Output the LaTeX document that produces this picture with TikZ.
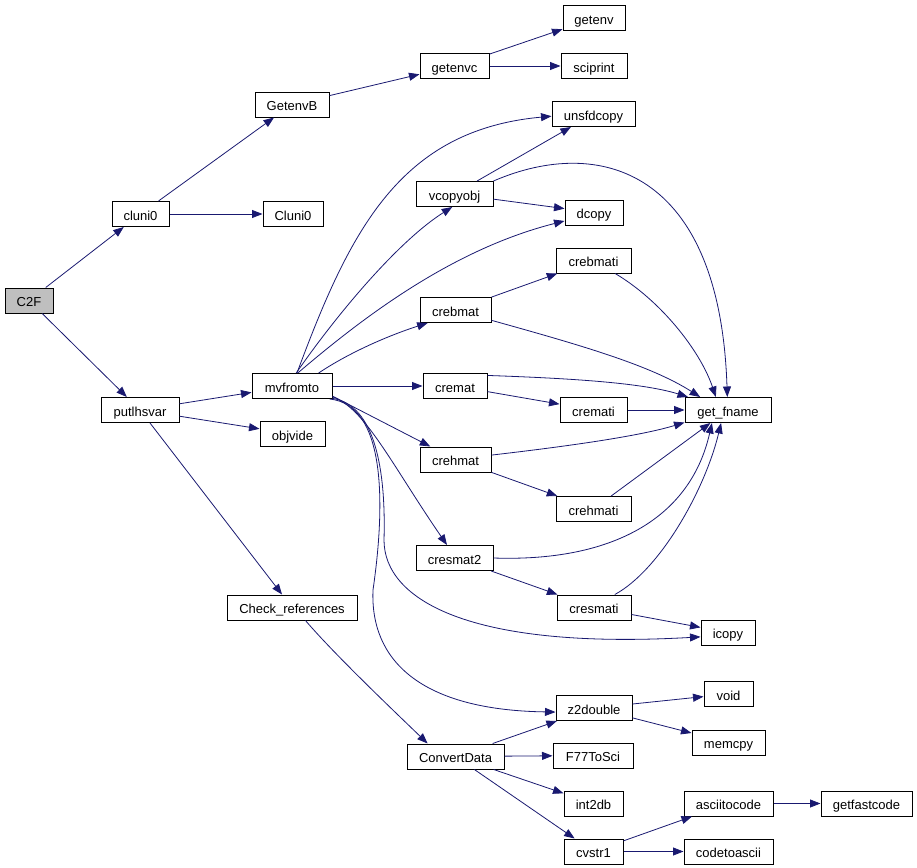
\documentclass[tikz,border=0pt]{standalone}
\usepackage{fontspec}
\setmainfont{Liberation Sans}
\usetikzlibrary{arrows.meta}
\definecolor{edgeblue}{HTML}{191970}

\begin{document}
\begin{tikzpicture}[x=1pt, y=-1pt, font=\fontsize{13}{15}\selectfont]
%% one unit is one pixel of the call graph, y grows downwards
%% box widths are set per node, the height is shared
\tikzstyle{fn}=[draw=black, line width=1pt, rectangle, inner sep=0pt, minimum height=25pt, text height=13pt, text depth=1pt, fill=white]
\tikzstyle{rootfn}=[fn, fill=black!25]
\tikzstyle{call}=[-{Triangle[length=10.5pt,width=8pt]}, draw=edgeblue, line width=0.8pt]
\useasboundingbox (0,0) rectangle (917,867);
%% TikZ-figure elements %%
\node[rootfn, minimum width=48pt] at (29,300.5) (C2F) {C2F};
\node[fn, minimum width=57pt] at (140.5,214) (cluni0) {cluni0};
\node[fn, minimum width=60pt] at (293,214) (Cluni0) {Cluni0};
\node[fn, minimum width=74pt] at (292,104.5) (GetenvB) {GetenvB};
\node[fn, minimum width=69pt] at (454.5,66) (getenvc) {getenvc};
\node[fn, minimum width=62pt] at (594,18.5) (getenv) {getenv};
\node[fn, minimum width=66pt] at (594,66) (sciprint) {sciprint};
\node[fn, minimum width=78pt] at (140,410) (putlhsvar) {putlhsvar};
\node[fn, minimum width=80pt] at (292,386) (mvfromto) {mvfromto};
\node[fn, minimum width=65pt] at (292.5,434) (objvide) {objvide};
\node[fn, minimum width=130pt] at (292,607.5) (Check_references) {Check\_references};
%% callees of mvfromto
\node[fn, minimum width=83pt] at (593.5,114) (unsfdcopy) {unsfdcopy};
\node[fn, minimum width=77pt] at (454.5,194) (vcopyobj) {vcopyobj};
\node[fn, minimum width=58pt] at (594,212.5) (dcopy) {dcopy};
\node[fn, minimum width=75pt] at (593.5,260.5) (crebmati) {crebmati};
\node[fn, minimum width=71pt] at (455.5,310) (crebmat) {crebmat};
\node[fn, minimum width=64pt] at (455,386) (cremat) {cremat};
\node[fn, minimum width=67pt] at (593.5,410) (cremati) {cremati};
\node[fn, minimum width=86pt] at (728,410) (get_fname) {get\_fname};
\node[fn, minimum width=71pt] at (455.5,459.5) (crehmat) {crehmat};
\node[fn, minimum width=75pt] at (593.5,509) (crehmati) {crehmati};
\node[fn, minimum width=77pt] at (454.5,558) (cresmat2) {cresmat2};
\node[fn, minimum width=74pt] at (594,607.5) (cresmati) {cresmati};
\node[fn, minimum width=54pt] at (728,632.5) (icopy) {icopy};
\node[fn, minimum width=76pt] at (594,708) (z2double) {z2double};
\node[fn, minimum width=49pt] at (728.5,694) (void) {void};
\node[fn, minimum width=73pt] at (728.5,742.5) (memcpy) {memcpy};
%% callees of Check_references
\node[fn, minimum width=97pt] at (455.5,756.5) (ConvertData) {ConvertData};
\node[fn, minimum width=80pt] at (593,755.5) (F77ToSci) {F77ToSci};
\node[fn, minimum width=59pt] at (593.5,803.5) (int2db) {int2db};
\node[fn, minimum width=59pt] at (593.5,851.5) (cvstr1) {cvstr1};
\node[fn, minimum width=89pt] at (728.5,803.5) (asciitocode) {asciitocode};
\node[fn, minimum width=89pt] at (728.5,851.5) (codetoascii) {codetoascii};
\node[fn, minimum width=91pt] at (866.5,803.5) (getfastcode) {getfastcode};
%% calls
\draw[call] (C2F) -- (cluni0);
\draw[call] (C2F) -- (putlhsvar);
\draw[call] (cluni0) -- (GetenvB);
\draw[call] (cluni0) -- (Cluni0);
\draw[call] (GetenvB) -- (getenvc);
\draw[call] (getenvc) -- (getenv);
\draw[call] (getenvc) -- (sciprint);
\draw[call] (putlhsvar) -- (mvfromto);
\draw[call] (putlhsvar) -- (objvide);
\draw[call] (putlhsvar) -- (Check_references);
\draw[call] (Check_references.-44) .. controls (335,655) and (395,712) .. (ConvertData.155);
%% mvfromto, upper fan
\draw[call] (mvfromto.69) .. controls (350,230) and (400,130) .. (unsfdcopy.183);
\draw[call] (mvfromto.72) .. controls (340,310) and (400,240) .. (vcopyobj.-100);
\draw[call] (mvfromto.66) .. controls (360,320) and (450,250) .. (dcopy.196);
\draw[call] (mvfromto.26) .. controls (350,352) and (390,335) .. (crebmat.-155);
\draw[call] (mvfromto) -- (cremat);
%% mvfromto, lower fan
\draw[call] (mvfromto.-14) -- (crehmat);
\draw[call] (mvfromto.-15) .. controls (365,408) and (392,465) .. (cresmat2.120);
\draw[call] (mvfromto.-17) .. controls (375,405) and (386,470) .. (384,540)
  .. controls (384,600) and (470,650) .. (icopy.189);
\draw[call] (mvfromto.-19) .. controls (385,405) and (386,500) .. (373,590)
  .. controls (370,660) and (420,710) .. (z2double.186);
%% second level
\draw[call] (vcopyobj) -- (unsfdcopy);
\draw[call] (vcopyobj) -- (dcopy);
\draw[call] (vcopyobj.north east) .. controls (600,135) and (720,170) .. (get_fname.93);
\draw[call] (crebmat) -- (crebmati);
\draw[call] (crebmat.-16) .. controls (580,345) and (650,365) .. (get_fname.155);
\draw[call] (crebmati.-31) .. controls (660,300) and (700,350) .. (get_fname.133);
\draw[call] (cremat.18) .. controls (560,378) and (640,382) .. (get_fname.162);
\draw[call] (cremat) -- (cremati);
\draw[call] (cremati) -- (get_fname);
\draw[call] (crehmat.7) .. controls (570,446) and (640,436) .. (get_fname.196);
\draw[call] (crehmat) -- (crehmati);
\draw[call] (crehmati) -- (get_fname);
\draw[call] (cresmat2.east) .. controls (610,562) and (690,520) .. (get_fname.219);
\draw[call] (cresmat2) -- (cresmati);
\draw[call] (cresmati.32) .. controls (660,570) and (705,490) .. (get_fname.242);
\draw[call] (cresmati) -- (icopy);
\draw[call] (z2double) -- (void);
\draw[call] (z2double) -- (memcpy);
%% ConvertData and below
\draw[call] (ConvertData) -- (z2double);
\draw[call] (ConvertData) -- (F77ToSci);
\draw[call] (ConvertData) -- (int2db);
\draw[call] (ConvertData) -- (cvstr1);
\draw[call] (cvstr1) -- (asciitocode);
\draw[call] (cvstr1) -- (codetoascii);
\draw[call] (asciitocode) -- (getfastcode);
\end{tikzpicture}
\end{document}
